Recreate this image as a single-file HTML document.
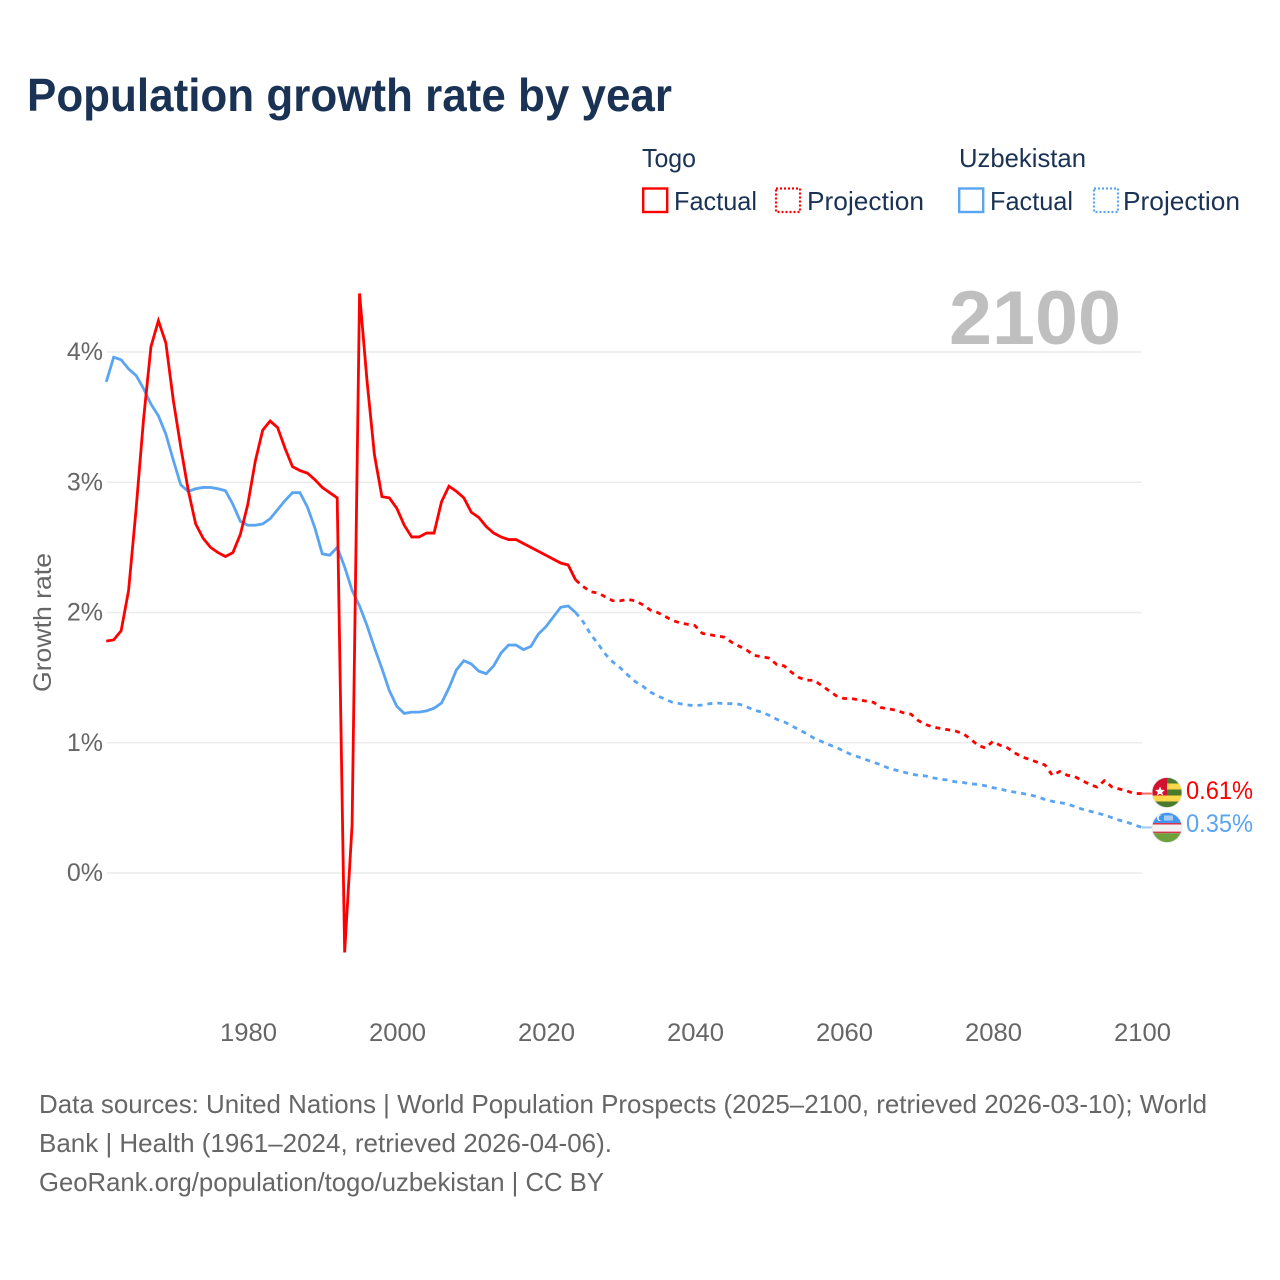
<!DOCTYPE html>
<html lang="en">
<head>
<meta charset="utf-8">
<title>Population growth rate by year</title>
<style>
  html, body { margin: 0; padding: 0; background: #fff; }
  svg { display: block; font-family: "Liberation Sans", sans-serif; }
</style>
</head>
<body>
<svg id="chart" xmlns="http://www.w3.org/2000/svg" width="1280" height="1280" viewBox="0 0 1280 1280">
  <defs>
    <clipPath id="clip-togo"><circle cx="1167" cy="792.5" r="15"></circle></clipPath>
    <clipPath id="clip-uzb"><circle cx="1167" cy="827.5" r="15"></circle></clipPath>
  </defs>
  <rect width="1280" height="1280" fill="#ffffff"></rect>

  <text x="27" y="111" font-size="46" font-weight="700" fill="#1a3355" textLength="645" lengthAdjust="spacingAndGlyphs">Population growth rate by year</text>

  <g font-size="26" fill="#1a3355">
    <text x="642" y="167" textLength="54" lengthAdjust="spacingAndGlyphs">Togo</text>
    <g>
      <rect x="643.2" y="188.5" width="24" height="23.5" fill="none" stroke="#ff0000" stroke-width="2.4"></rect>
      <text x="674" y="210" textLength="83" lengthAdjust="spacingAndGlyphs">Factual</text>
    </g>
    <g>
      <rect x="776" y="188.5" width="24" height="23.5" fill="none" stroke="#ff0000" stroke-width="2.2" stroke-dasharray="2 2"></rect>
      <text x="807" y="210" textLength="117" lengthAdjust="spacingAndGlyphs">Projection</text>
    </g>
    <text x="959" y="167" textLength="127" lengthAdjust="spacingAndGlyphs">Uzbekistan</text>
    <g>
      <rect x="959.2" y="188.5" width="24" height="23.5" fill="none" stroke="#5aa5f2" stroke-width="2.4"></rect>
      <text x="990" y="210" textLength="83" lengthAdjust="spacingAndGlyphs">Factual</text>
    </g>
    <g>
      <rect x="1094" y="188.5" width="24" height="23.5" fill="none" stroke="#5aa5f2" stroke-width="2.2" stroke-dasharray="2 2"></rect>
      <text x="1123" y="210" textLength="117" lengthAdjust="spacingAndGlyphs">Projection</text>
    </g>
  </g>

  <g id="grid"></g>
  <text x="949" y="344" font-size="76" font-weight="700" fill="#bfbfbf" textLength="172" lengthAdjust="spacingAndGlyphs">2100</text>
  <g id="y-axis"></g>
  <g id="x-axis"></g>
  <text transform="translate(51 622.5) rotate(-90)" text-anchor="middle" font-size="25" fill="#666666" textLength="139" lengthAdjust="spacingAndGlyphs">Growth rate</text>
  <g id="series"></g>

  <g clip-path="url(#clip-togo)">
    <rect x="1152" y="777" width="30" height="6.5" fill="#4a7a2c"></rect>
    <rect x="1152" y="783.5" width="30" height="6" fill="#fdd64a"></rect>
    <rect x="1152" y="789.5" width="30" height="6" fill="#4a7a2c"></rect>
    <rect x="1152" y="795.5" width="30" height="6" fill="#fdd64a"></rect>
    <rect x="1152" y="801.5" width="30" height="7" fill="#4a7a2c"></rect>
    <rect x="1152" y="777" width="15" height="18.5" fill="#d2112f"></rect>
    <polygon points="1160,786.5 1161.4,789.7 1164.8,790 1162.2,792.2 1163,795.5 1160,793.8 1157,795.5 1157.8,792.2 1155.2,790 1158.6,789.7" fill="#ffffff"></polygon>
  </g>
  <g clip-path="url(#clip-uzb)">
    <rect x="1152" y="812" width="30" height="11" fill="#4296ed"></rect>
    <rect x="1152" y="823" width="30" height="1.6" fill="#d9344a"></rect>
    <rect x="1152" y="824.6" width="30" height="7" fill="#f2f2f2"></rect>
    <rect x="1152" y="831.6" width="30" height="1.6" fill="#d9344a"></rect>
    <rect x="1152" y="833.2" width="30" height="10" fill="#6ea13c"></rect>
    <circle cx="1160" cy="818" r="3" fill="#ffffff"></circle>
    <circle cx="1161.2" cy="818" r="2.6" fill="#4296ed"></circle>
    <rect x="1164" y="815.5" width="9" height="5" fill="#a8cdf5"></rect>
  </g>
  <circle cx="1167" cy="792.5" r="15" fill="none" stroke="#e4e4e4" stroke-width="0.8"></circle>
  <circle cx="1167" cy="827.5" r="15" fill="none" stroke="#e4e4e4" stroke-width="0.8"></circle>

  <text x="1186" y="799" font-size="25" fill="#ff0000" textLength="67" lengthAdjust="spacingAndGlyphs">0.61%</text>
  <text x="1186" y="832" font-size="25" fill="#5aa5f2" textLength="67" lengthAdjust="spacingAndGlyphs">0.35%</text>

  <g font-size="26" fill="#666666">
    <text x="39" y="1113" textLength="1168" lengthAdjust="spacingAndGlyphs">Data sources: United Nations | World Population Prospects (2025–2100, retrieved 2026-03-10); World</text>
    <text x="39" y="1152" textLength="573" lengthAdjust="spacingAndGlyphs">Bank | Health (1961–2024, retrieved 2026-04-06).</text>
    <text x="39" y="1191" textLength="565" lengthAdjust="spacingAndGlyphs">GeoRank.org/population/togo/uzbekistan | CC BY</text>
  </g>
</svg>
<script>
const factualStartYear = 1961;
const projectionStartYear = 2025;
const yTickValues = [0, 1, 2, 3, 4];
const yTickLabels = ["0%", "1%", "2%", "3%", "4%"];
const xTickValues = [1980, 2000, 2020, 2040, 2060, 2080, 2100];
const xTickLabels = ["1980", "2000", "2020", "2040", "2060", "2080", "2100"];

const togoFactual = [
  1.78, 1.79, 1.86, 2.17, 2.79, 3.48, 4.04, 4.24, 4.07, 3.63,
  3.27, 2.94, 2.68, 2.57, 2.50, 2.46, 2.43, 2.46, 2.60, 2.83,
  3.16, 3.40, 3.47, 3.42, 3.26, 3.12, 3.09, 3.07, 3.02, 2.96,
  2.92, 2.88, -0.61, 0.37, 4.45, 3.78, 3.21, 2.89, 2.88, 2.80,
  2.67, 2.58, 2.58, 2.61, 2.61, 2.85, 2.97, 2.93, 2.88, 2.77,
  2.73, 2.66, 2.61, 2.58, 2.56, 2.56, 2.53, 2.50, 2.47, 2.44,
  2.41, 2.38, 2.365, 2.25
];
const togoProjection = [
  2.20, 2.16, 2.15, 2.12, 2.09, 2.09, 2.10, 2.09, 2.06, 2.02,
  2.00, 1.97, 1.94, 1.92, 1.91, 1.90, 1.84, 1.83, 1.82, 1.81,
  1.77, 1.74, 1.71, 1.67, 1.66, 1.65, 1.60, 1.59, 1.54, 1.50,
  1.48, 1.48, 1.44, 1.40, 1.36, 1.34, 1.34, 1.33, 1.32, 1.31,
  1.27, 1.26, 1.25, 1.23, 1.22, 1.17, 1.14, 1.12, 1.11, 1.10,
  1.09, 1.07, 1.03, 0.98, 0.96, 1.01, 0.98, 0.96, 0.92, 0.89,
  0.87, 0.85, 0.83, 0.75, 0.78, 0.75, 0.74, 0.71, 0.68, 0.66,
  0.71, 0.66, 0.645, 0.63, 0.61, 0.61
];
const uzbekistanFactual = [
  3.77, 3.96, 3.94, 3.87, 3.82, 3.72, 3.60, 3.51, 3.37, 3.17,
  2.98, 2.93, 2.95, 2.96, 2.96, 2.95, 2.935, 2.83, 2.70, 2.67,
  2.67, 2.68, 2.72, 2.79, 2.86, 2.92, 2.92, 2.81, 2.65, 2.45,
  2.44, 2.50, 2.35, 2.17, 2.05, 1.90, 1.73, 1.57, 1.40, 1.28,
  1.225, 1.235, 1.235, 1.245, 1.265, 1.305, 1.42, 1.56, 1.63, 1.605,
  1.55, 1.53, 1.59, 1.69, 1.75, 1.75, 1.715, 1.74, 1.835, 1.89,
  1.965, 2.04, 2.05, 2.00
];
const uzbekistanProjection = [
  1.93, 1.835, 1.76, 1.68, 1.62, 1.575, 1.52, 1.47, 1.435, 1.39,
  1.36, 1.335, 1.31, 1.30, 1.29, 1.285, 1.29, 1.30, 1.305, 1.30,
  1.30, 1.295, 1.275, 1.25, 1.235, 1.21, 1.18, 1.16, 1.13, 1.10,
  1.07, 1.035, 1.01, 0.985, 0.965, 0.935, 0.91, 0.89, 0.87, 0.85,
  0.83, 0.805, 0.79, 0.775, 0.76, 0.75, 0.745, 0.73, 0.72, 0.713,
  0.70, 0.695, 0.685, 0.68, 0.67, 0.655, 0.645, 0.63, 0.62, 0.61,
  0.60, 0.585, 0.565, 0.55, 0.54, 0.53, 0.51, 0.49, 0.475, 0.46,
  0.445, 0.425, 0.405, 0.39, 0.37, 0.35
];

const SVG_NS = "http://www.w3.org/2000/svg";
const plotLeft = 107;
const plotRight = 1142;

function xScale(year) {
  return 247.8 + (year - 1980) * 7.45;
}
function labelX(year) {
  return 248.5 + (year - 1980) * 7.45;
}
function yScale(value) {
  return 873 - value * 130.25;
}
function make(tag, attrs, parent) {
  const node = document.createElementNS(SVG_NS, tag);
  for (const key in attrs) {
    node.setAttribute(key, attrs[key]);
  }
  parent.appendChild(node);
  return node;
}
function pathFrom(values, startYear) {
  return values.map(function (v, i) {
    return (i ? "L" : "M") + xScale(startYear + i).toFixed(2) + " " + yScale(v).toFixed(2);
  }).join(" ");
}

const grid = document.getElementById("grid");
const yAxis = document.getElementById("y-axis");
const xAxis = document.getElementById("x-axis");
const series = document.getElementById("series");

yTickValues.forEach(function (value, i) {
  const line = make("line", { x1: plotLeft, x2: plotRight, y1: yScale(value), y2: yScale(value), stroke: "#ececec", "stroke-width": 1.5 }, grid);
  
  
  const label = make("text", { x: 103, y: yScale(value) + 8, "text-anchor": "end", "font-size": 25, fill: "#666666" }, yAxis);
  
  
  label.textContent = yTickLabels[i];
});

xTickValues.forEach(function (year, i) {
  const label = make("text", { x: labelX(year), y: 1041, "text-anchor": "middle", "font-size": 25, fill: "#666666", textLength: 57, lengthAdjust: "spacingAndGlyphs" }, xAxis);
  
  
  label.textContent = xTickLabels[i];
});

function drawSeries(factual, projection, color) {
  const lastFactual = factual[factual.length - 1];
  const lastYear = projectionStartYear - 1;
  const lastProjection = projection[projection.length - 1];

  const dashedLine = make("path", { d: pathFrom([lastFactual].concat(projection), lastYear), fill: "none", stroke: color, "stroke-width": 2.8, "stroke-dasharray": "5 5", "stroke-linejoin": "round" }, series);
  
  

  const solidLine = make("path", { d: pathFrom(factual, factualStartYear), fill: "none", stroke: color, "stroke-width": 2.8, "stroke-linejoin": "miter", "stroke-miterlimit": 20 }, series);
  
  

  const connector = make("line", { x1: xScale(2100), x2: 1153, y1: yScale(lastProjection), y2: yScale(lastProjection), stroke: color, "stroke-width": 2, opacity: 0.6 }, series);
  
  
}

drawSeries(uzbekistanFactual, uzbekistanProjection, "#5aa5f2");
drawSeries(togoFactual, togoProjection, "#ff0000");
</script>
</body>
</html>
